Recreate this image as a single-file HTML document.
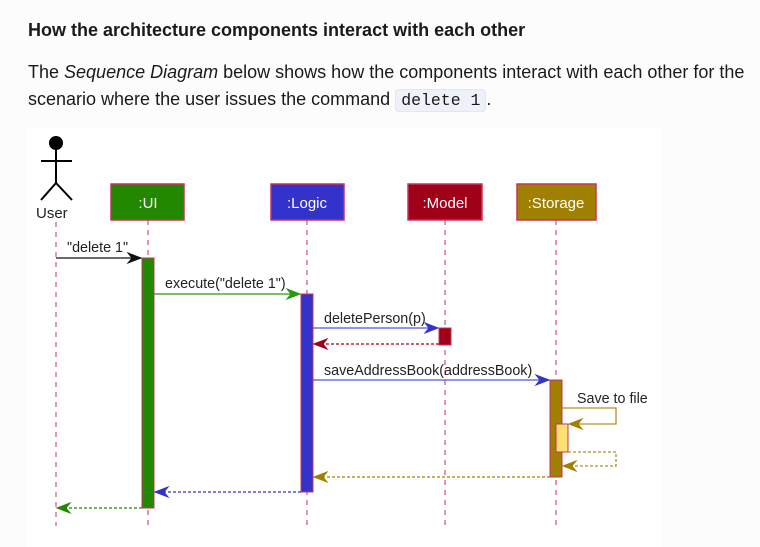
<!DOCTYPE html>
<html><head><meta charset="utf-8"><style>
body{margin:0;background:#fcfcfd;width:760px;height:547px;overflow:hidden;font-family:"Liberation Sans",sans-serif;color:#1a1a1a}
h3{position:absolute;left:28px;top:20px;margin:0;font-size:18px;font-weight:bold;white-space:nowrap}
p{position:absolute;left:28px;top:59px;margin:0;font-size:18px;line-height:27px;width:740px;white-space:nowrap}
code{font-family:"Liberation Mono",monospace;background:#eef0fa;border:1px solid #e2e5f2;border-radius:4px;padding:1px 5px;font-size:16.5px}
svg{position:absolute;left:0;top:0}
</style></head><body>
<h3>How the architecture components interact with each other</h3>
<p>The <i>Sequence Diagram</i> below shows how the components interact with each other for the<br>scenario where the user issues the command <code>delete 1</code>.</p>
<svg width="760" height="547" font-family="Liberation Sans, sans-serif">
<rect x="27" y="128" width="634" height="419" fill="#fff"/>
<g stroke="#c8325a" stroke-width="1" stroke-dasharray="5,5">
<line x1="56" y1="222" x2="56" y2="526"/><line x1="148" y1="220" x2="148" y2="526"/>
<line x1="307" y1="220" x2="307" y2="526"/><line x1="445" y1="220" x2="445" y2="526"/>
<line x1="556" y1="220" x2="556" y2="526"/></g>
<g stroke="#000" stroke-width="2" fill="none"><circle cx="56" cy="143" r="6" fill="#000"/>
<line x1="56" y1="149" x2="56" y2="183"/><line x1="41" y1="161" x2="72" y2="161"/>
<polyline points="41,200 56,183 72,200"/></g>
<text x="36" y="218" font-size="15" fill="#222">User</text>
<g stroke="#c8325a" stroke-width="1.5">
<rect x="111" y="184" width="73" height="36" fill="#228800"/>
<rect x="271" y="184" width="73" height="36" fill="#3333cc"/>
<rect x="408" y="184" width="74" height="36" fill="#a00018"/>
<rect x="517" y="184" width="79" height="36" fill="#a08000"/></g>
<g fill="#fff" font-size="15" text-anchor="middle">
<text x="148" y="208">:UI</text><text x="307" y="208">:Logic</text>
<text x="445" y="208">:Model</text><text x="556" y="208">:Storage</text></g>
<g stroke="#c8325a" stroke-width="1">
<rect x="142" y="258" width="12" height="250" fill="#228800"/>
<rect x="301" y="294" width="12" height="198" fill="#3333cc"/>
<rect x="439" y="328" width="12" height="17" fill="#a00018"/>
<rect x="550" y="380" width="12" height="97" fill="#a08000"/>
<rect x="556" y="424" width="12" height="28" fill="#ffe070"/></g>
<g font-size="14.3" fill="#222">
<text x="67" y="252">"delete 1"</text><text x="165" y="288">execute("delete 1")</text>
<text x="324" y="323">deletePerson(p)</text><text x="324" y="375">saveAddressBook(addressBook)</text>
<text x="577" y="403">Save to file</text></g>
<g fill="none" stroke-width="1.3">
<line x1="56" y1="258" x2="141" y2="258" stroke="#111"/>
<line x1="154" y1="294" x2="300" y2="294" stroke="#2a9a10"/>
<line x1="313" y1="328" x2="438" y2="328" stroke="#5555dd"/>
<line x1="439" y1="344" x2="314" y2="344" stroke="#a00018" stroke-dasharray="3,2"/>
<line x1="313" y1="380" x2="549" y2="380" stroke="#5555dd"/>
<polyline points="562,408 616,408 616,424 569,424" stroke="#b09020"/>
<polyline points="568,452 616,452 616,466 563,466" stroke="#b09020" stroke-dasharray="3,2"/>
<line x1="550" y1="477" x2="314" y2="477" stroke="#a08000" stroke-dasharray="3,2"/>
<line x1="301" y1="492" x2="155" y2="492" stroke="#3333cc" stroke-dasharray="3,2"/>
<line x1="142" y1="508" x2="57" y2="508" stroke="#228800" stroke-dasharray="3,2"/>
</g>
<g stroke-width="1">
<polygon points="128,253 141,258 128,263 132,258" fill="#111" stroke="#111"/>
<polygon points="287,289 300,294 287,299 291,294" fill="#2a9a10" stroke="#2a9a10"/>
<polygon points="425,323 438,328 425,333 429,328" fill="#3333cc" stroke="#3333cc"/>
<polygon points="327,339 314,344 327,349 323,344" fill="#a00018" stroke="#a00018"/>
<polygon points="536,375 549,380 536,385 540,380" fill="#3333cc" stroke="#3333cc"/>
<polygon points="582,419 569,424 582,429 578,424" fill="#a08000" stroke="#a08000"/>
<polygon points="576,461 563,466 576,471 572,466" fill="#a08000" stroke="#a08000"/>
<polygon points="327,472 314,477 327,482 323,477" fill="#a08000" stroke="#a08000"/>
<polygon points="168,487 155,492 168,497 164,492" fill="#3333cc" stroke="#3333cc"/>
<polygon points="70,503 57,508 70,513 66,508" fill="#228800" stroke="#228800"/>
</g></svg>
</body></html>
